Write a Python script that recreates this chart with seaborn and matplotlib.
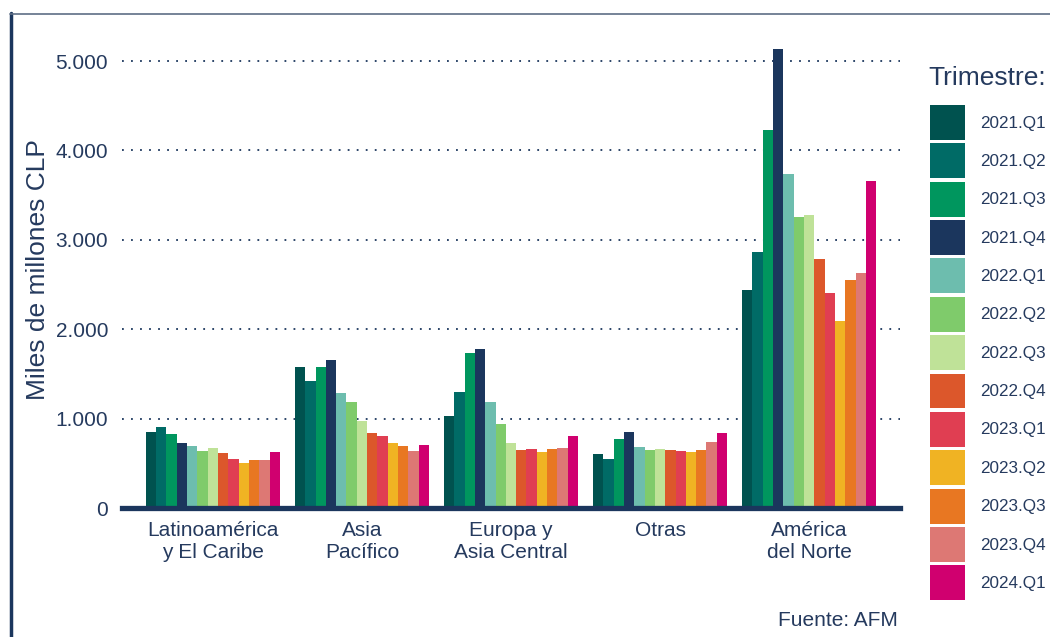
import pandas as pd
import seaborn as sns
import matplotlib.pyplot as plt
from matplotlib.lines import Line2D

# DATOS
regiones = ["Latinoamérica\ny El Caribe", "Asia\nPacífico", "Europa y\nAsia Central",
            "Otras", "América\ndel Norte"]
trimestres = ["2021.Q1", "2021.Q2", "2021.Q3", "2021.Q4",
              "2022.Q1", "2022.Q2", "2022.Q3", "2022.Q4",
              "2023.Q1", "2023.Q2", "2023.Q3", "2023.Q4", "2024.Q1"]

latam    = [848, 904, 826, 725, 692, 636, 670, 614, 547, 502, 536, 536, 625]
asia     = [1574, 1417, 1574, 1652, 1283, 1183, 971, 837, 804, 725, 692, 636, 703]
europa   = [1029, 1298, 1734, 1779, 1186, 940, 727, 649, 660, 626, 660, 671, 805]
otras    = [604, 548, 772, 850, 682, 649, 660, 649, 638, 626, 649, 738, 839]
america  = [2438, 2864, 4228, 5134, 3736, 3255, 3277, 2785, 2405, 2092, 2550, 2629, 3658]

colores = ["#00524F", "#006B66", "#00965E", "#1B365D", "#6DBDAE", "#7FCB6B", "#BFE298",
           "#DC572B", "#E03E52", "#F0B323", "#E87722", "#DD7874", "#D0006F"]

y_ticks = [0, 1000, 2000, 3000, 4000, 5000]
y_tick_labels = ["0", "1.000", "2.000", "3.000", "4.000", "5.000"]

# TABLA LARGA
filas = []
for region, valores in zip(regiones, [latam, asia, europa, otras, america]):
    for trim, v in zip(trimestres, valores):
        filas.append({"region": region, "trimestre": trim, "valor": v})
df = pd.DataFrame(filas)

navy = "#1B365D"
texto = "#253A5E"

sns.set_style("white")
plt.rcParams["font.family"] = ["Liberation Sans", "DejaVu Sans"]

fig = plt.figure(figsize=(10.5, 6.37), dpi=100)
ax = fig.add_axes([122 / 1050, 1 - 508 / 637, 778 / 1050, 468 / 637])

sns.barplot(data=df, x="region", y="valor", hue="trimestre", order=regiones,
            hue_order=trimestres, palette=colores, saturation=1, width=0.9,
            gap=0, ax=ax, errorbar=None, linewidth=0, edgecolor="none")

ax.set_xlim(-0.61, 4.61)
ax.set_ylim(0, 5235)
ax.set_yticks(y_ticks)
ax.set_yticklabels(y_tick_labels)
ax.set_axisbelow(True)
ax.yaxis.grid(True, linestyle=(0, (1, 4)), color=navy, linewidth=1.3)
ax.xaxis.grid(False)

for lado in ["top", "right", "left"]:
    ax.spines[lado].set_visible(False)
ax.spines["bottom"].set_color(navy)
ax.spines["bottom"].set_linewidth(3.8)

ax.tick_params(axis="x", colors=navy, direction="out", length=5, width=4,
               labelsize=15, labelcolor=texto, pad=4)
ax.tick_params(axis="y", length=0, labelsize=15, labelcolor=texto, pad=10)

ax.set_xlabel("")
ax.set_ylabel("Miles de millones CLP", fontsize=19, color=texto)
ax.yaxis.set_label_coords(-0.093, 0.51)

# LEYENDA
handles, labels = ax.get_legend_handles_labels()
ax.legend(handles, labels, loc="upper left",
          bbox_to_anchor=(930 / 1050, 1 - 105 / 637), bbox_transform=fig.transFigure,
          frameon=False, fontsize=12.3, handlelength=2.05,
          handleheight=2.77, labelspacing=0.2, handletextpad=0.88, borderpad=0,
          borderaxespad=0, labelcolor=texto)
fig.text(928 / 1050, 1 - 78 / 637, "Trimestre:", ha="left", va="center",
         fontsize=19, color=texto)

fig.text(898 / 1050, 1 - 620 / 637, "Fuente: AFM", ha="right", va="center",
         fontsize=15, color=texto)

# MARCO
fig.add_artist(Line2D([10.5 / 1050, 10.5 / 1050], [0, 1 - 13 / 637], color=navy,
                      linewidth=2.5, transform=fig.transFigure))
fig.add_artist(Line2D([10 / 1050, 1], [1 - 13.5 / 637, 1 - 13.5 / 637], color="#5E6E85",
                      linewidth=1.2, transform=fig.transFigure))

plt.savefig("out.png", dpi=100)
plt.close()
